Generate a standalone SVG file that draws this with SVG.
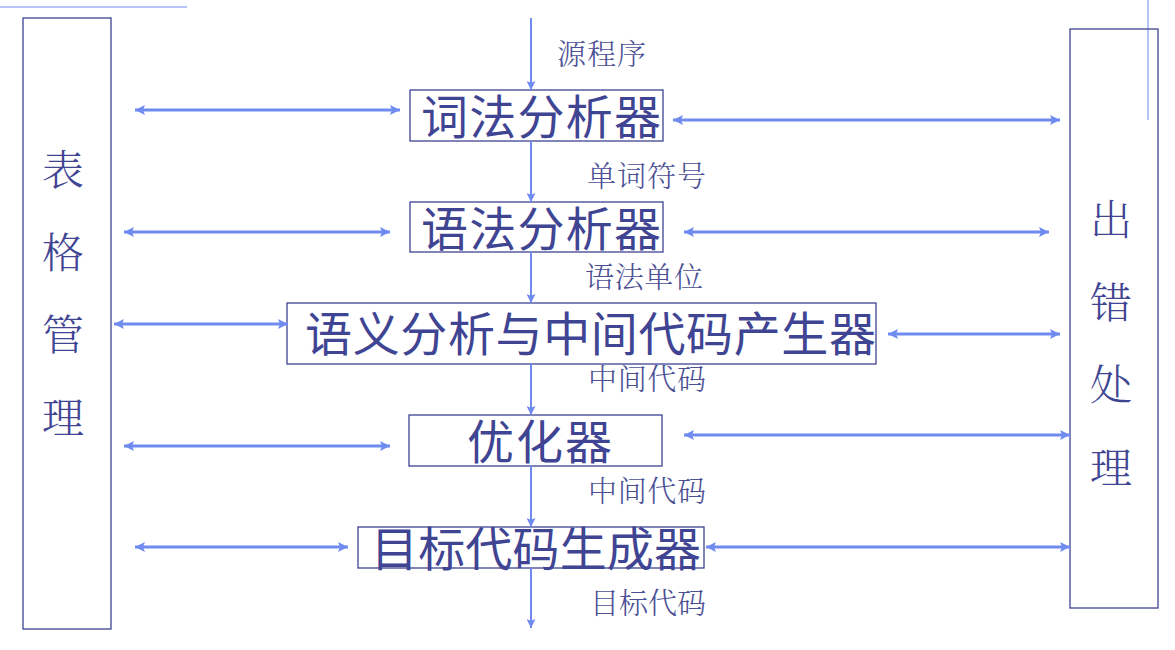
<svg xmlns="http://www.w3.org/2000/svg" width="1175" height="650" viewBox="0 0 1175 650">
<defs>
<marker id="ah" viewBox="0 0 10 10" refX="10" refY="5" markerWidth="10" markerHeight="10" markerUnits="userSpaceOnUse" orient="auto-start-reverse">
<path d="M0,0 L10,5 L0,10 L2,5 Z" fill="#6f8bf0"/>
</marker>
<marker id="av" viewBox="0 0 10 10" refX="10" refY="5" markerWidth="10" markerHeight="9" markerUnits="userSpaceOnUse" orient="auto">
<path d="M0,0 L10,5 L0,10 L2,5 Z" fill="#6f8bf0"/>
</marker>
<style>
.box{fill:none;stroke:#3d4290;stroke-width:1.3}
.h{stroke:#6f8bf0;stroke-width:3;fill:none;marker-start:url(#ah);marker-end:url(#ah)}
.v{stroke:#6f8bf0;stroke-width:2;fill:none;marker-end:url(#av)}
.big{font-family:"Noto Sans CJK SC",sans-serif;fill:#3f4593;font-size:47px}
.lbl{font-family:"Noto Serif CJK SC","Noto Sans CJK SC",serif;fill:#4b5094;font-size:29px;font-weight:300}
.side{font-family:"Noto Serif CJK SC","Noto Sans CJK SC",serif;fill:#3f4593;font-size:42px;font-weight:300;text-anchor:middle}
</style>
</defs>
<line x1="0" y1="7" x2="187" y2="7" stroke="#6f8bf0" stroke-width="1"/>
<line x1="1148" y1="0" x2="1148" y2="120" stroke="#6f8bf0" stroke-width="1"/>
<g id="table">
<rect class="box" x="23" y="18" width="88" height="611"/>
<text class="side" x="63" y="185">表</text>
<text class="side" x="63" y="268">格</text>
<text class="side" x="63" y="350">管</text>
<text class="side" x="63" y="433">理</text>
</g>
<g id="error">
<rect class="box" x="1070" y="29" width="88" height="579"/>
<text class="side" x="1111" y="235">出</text>
<text class="side" x="1111" y="318">错</text>
<text class="side" x="1111" y="400">处</text>
<text class="side" x="1111" y="483">理</text>
</g>
<g id="lex">
<rect class="box" x="410" y="90" width="253" height="51"/>
<text class="big" x="421" y="134" textLength="240">词法分析器</text>
</g>
<g id="syn">
<rect class="box" x="410" y="202" width="253" height="50"/>
<text class="big" x="421" y="246" textLength="240">语法分析器</text>
</g>
<g id="sem">
<rect class="box" x="287" y="303" width="589" height="61"/>
<text class="big" x="305" y="351" font-size="49" textLength="571">语义分析与中间代码产生器</text>
</g>
<g id="opt">
<rect class="box" x="409" y="415" width="253" height="51"/>
<text class="big" x="467" y="459" textLength="145">优化器</text>
</g>
<g id="gen">
<rect class="box" x="358" y="527" width="346" height="41"/>
<text class="big" x="371" y="566" textLength="330">目标代码生成器</text>
</g>
<g id="labels">
<text class="lbl" x="557" y="65" textLength="89">源程序</text>
<text class="lbl" x="587" y="187" textLength="119">单词符号</text>
<text class="lbl" x="585" y="288" textLength="118">语法单位</text>
<text class="lbl" x="588" y="390" textLength="118">中间代码</text>
<text class="lbl" x="588" y="502" textLength="118">中间代码</text>
<text class="lbl" x="590" y="614" textLength="116">目标代码</text>
</g>
<g id="connectors">
<line class="v" x1="531" y1="18" x2="531" y2="90"/>
<line class="v" x1="531" y1="141" x2="531" y2="202"/>
<line class="v" x1="531" y1="252" x2="531" y2="303"/>
<line class="v" x1="531" y1="364" x2="531" y2="415"/>
<line class="v" x1="531" y1="466" x2="531" y2="527"/>
<line class="v" x1="531" y1="568" x2="531" y2="628"/>
<line class="h" x1="135" y1="110" x2="400" y2="110"/>
<line class="h" x1="673" y1="120" x2="1060" y2="120"/>
<line class="h" x1="124" y1="232" x2="390" y2="232"/>
<line class="h" x1="684" y1="232" x2="1049" y2="232"/>
<line class="h" x1="114" y1="324" x2="288" y2="324"/>
<line class="h" x1="888" y1="334" x2="1060" y2="334"/>
<line class="h" x1="124" y1="446" x2="390" y2="446"/>
<line class="h" x1="684" y1="435" x2="1070" y2="435"/>
<line class="h" x1="135" y1="547" x2="348" y2="547"/>
<line class="h" x1="706" y1="547" x2="1070" y2="547"/>
</g>
</svg>
